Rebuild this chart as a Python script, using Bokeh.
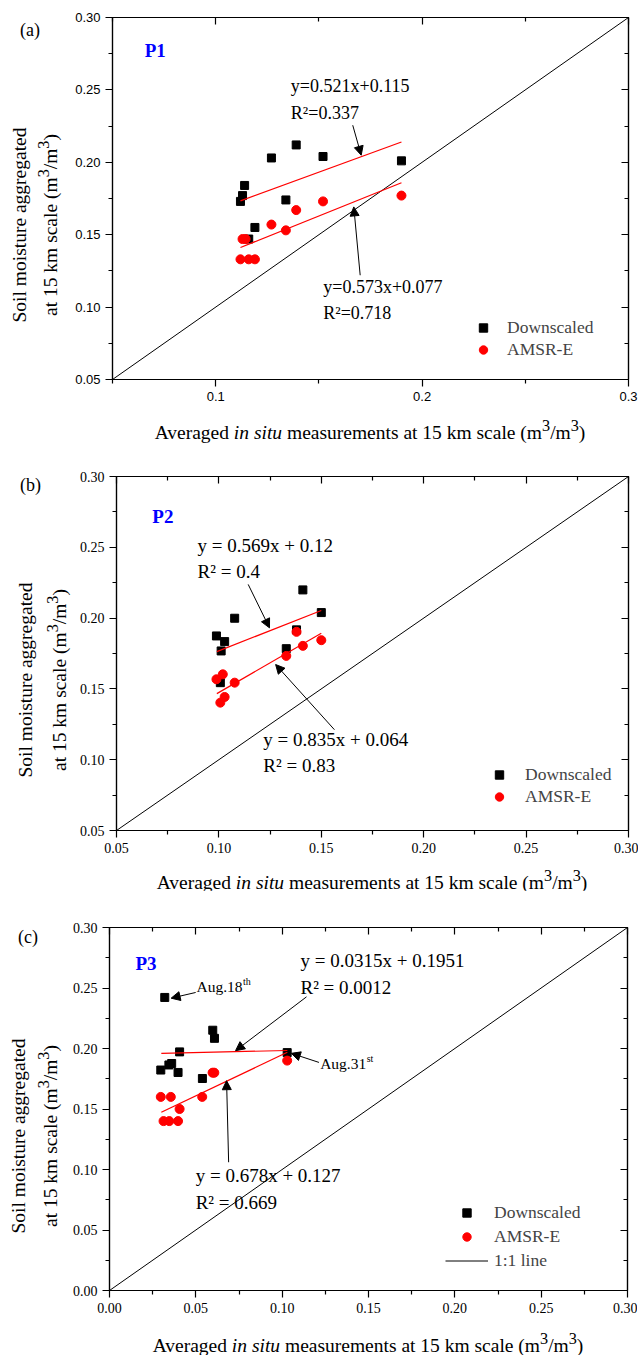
from bokeh.plotting import figure
from bokeh.models import (Label, Arrow, NormalHead, FixedTicker, LinearAxis,
                          NumeralTickFormatter, Legend, LegendItem, Range1d, Div)
from bokeh.layouts import column, row
from bokeh.embed import file_html
from bokeh.resources import INLINE

SERIF = "Liberation Serif"
SANS = "Liberation Sans"

# ---------------- data ----------------
# Panel (a) P1
a_down_x = [0.112, 0.113, 0.114, 0.127, 0.139, 0.152, 0.190, 0.134, 0.119, 0.116]
a_down_y = [0.173, 0.177, 0.184, 0.203, 0.212, 0.204, 0.201, 0.174, 0.155, 0.147]
a_amsr_x = [0.113, 0.1145, 0.112, 0.116, 0.119, 0.127, 0.134, 0.139, 0.152, 0.190]
a_amsr_y = [0.147, 0.147, 0.133, 0.133, 0.133, 0.157, 0.153, 0.167, 0.173, 0.177]
a_fit_slope = [0.521, 0.573]
a_fit_icpt = [0.115, 0.077]
a_fit_x = [0.112, 0.190]

# Panel (b) P2
b_down_x = [0.0988, 0.1028, 0.1011, 0.1077, 0.141, 0.150, 0.1379, 0.1329, 0.1007]
b_down_y = [0.1874, 0.1834, 0.1768, 0.1999, 0.2199, 0.2039, 0.1917, 0.1784, 0.1544]
b_amsr_x = [0.1379, 0.141, 0.150, 0.1329, 0.1019, 0.0988, 0.1077, 0.1028, 0.1007]
b_amsr_y = [0.1903, 0.1804, 0.1844, 0.1733, 0.1603, 0.1568, 0.1544, 0.1443, 0.1403]
b_fit_slope = [0.569, 0.835]
b_fit_icpt = [0.12, 0.064]
b_fit_x = [0.099, 0.150]

# Panel (c) P3
c_down_x = [0.032, 0.0598, 0.0608, 0.0406, 0.0297, 0.0344, 0.036, 0.0397, 0.0538, 0.1029]
c_down_y = [0.2422, 0.2151, 0.2084, 0.1972, 0.1822, 0.1864, 0.1876, 0.1802, 0.1752, 0.1966]
c_amsr_x = [0.0297, 0.0355, 0.0537, 0.0406, 0.0313, 0.0346, 0.0397, 0.0597, 0.0607, 0.1029]
c_amsr_y = [0.160, 0.160, 0.160, 0.150, 0.140, 0.140, 0.140, 0.180, 0.180, 0.190]
c_fit_slope = [0.0315, 0.678]
c_fit_icpt = [0.1951, 0.127]
c_fit_x = [0.030, 0.103]

series_labels = ["Downscaled", "AMSR-E", "1:1 line"]
x_title_html = "Averaged <i>in situ</i> measurements at 15 km scale (m<sup>3</sup>/m<sup>3</sup>)"
y_title_html = ["Soil moisture aggregated", "at 15 km scale (m<sup>3</sup>/m<sup>3</sup>)"]

a_ann_text = ["y=0.521x+0.115", "R²=0.337", "y=0.573x+0.077", "R²=0.718"]
b_ann_text = ["y = 0.569x + 0.12", "R² = 0.4", "y = 0.835x + 0.064", "R² = 0.83"]
c_ann_text = ["y = 0.0315x + 0.1951", "R² = 0.0012", "y = 0.678x + 0.127", "R² = 0.669"]
c_date_text = ["Aug.18", "Aug.31"]
c_date_sup = ["th", "st"]

REG = {' ': 250, 'A': 722, 'u': 500, 'g': 500, '.': 250, '1': 500, '8': 500, '3': 500}


def tw(s, size):
    return sum(REG.get(ch, 500) for ch in s) / 1000.0 * size


def styled_axis(ax, ticks, minor, fmt, font, fsize, outside=True):
    ax.ticker = FixedTicker(ticks=ticks, minor_ticks=minor)
    ax.formatter = NumeralTickFormatter(format=fmt)
    ax.axis_line_color = "black"
    ax.axis_line_width = 1.2
    ax.major_tick_line_width = 1.2
    ax.minor_tick_line_width = 1.2
    if outside:
        ax.major_tick_out, ax.major_tick_in = 7, 0
        ax.minor_tick_out, ax.minor_tick_in = 4, 0
        ax.major_label_text_font = font
        ax.major_label_text_font_size = fsize
        ax.major_label_text_color = "black"
        ax.major_label_standoff = 5
    else:
        ax.major_tick_out, ax.major_tick_in = 0, 7
        ax.minor_tick_out, ax.minor_tick_in = 0, 4
        ax.major_label_text_font_size = "1px"
        ax.major_label_text_color = None
        ax.major_label_standoff = 0


def make_panel(cfg):
    x0, x1 = cfg["xr"]
    y0, y1 = cfg["yr"]
    fw, fh = cfg["frame"]
    p = figure(frame_width=fw, frame_height=fh,
               x_range=Range1d(x0, x1), y_range=Range1d(y0, y1),
               output_backend="svg", toolbar_location=None,
               min_border_left=cfg["bl"], min_border_right=10,
               min_border_top=cfg["bt"], min_border_bottom=cfg["bb"],
               x_axis_location=None, y_axis_location=None, margin=0)
    p.grid.visible = False
    p.outline_line_color = "black"
    p.outline_line_width = 1.2

    xt, xm, xf = cfg["xticks"], cfg["xminor"], cfg["xfmt"]
    yt, ym = cfg["yticks"], cfg["yminor"]
    tf, tfs = cfg["tick_font"], cfg["tick_size"]

    bx = LinearAxis(); styled_axis(bx, xt, xm, xf, tf, tfs, True)
    ly = LinearAxis(); styled_axis(ly, yt, ym, "0.00", tf, tfs, True)
    tx = LinearAxis(); styled_axis(tx, xt, xm, xf, tf, tfs, False)
    ry = LinearAxis(); styled_axis(ry, yt, ym, "0.00", tf, tfs, False)
    p.add_layout(bx, "below")
    p.add_layout(ly, "left")
    p.add_layout(tx, "above")
    p.add_layout(ry, "right")

    r_one = p.line([x0, x1], [x0, x1], line_color="black", line_width=1)
    r_sq = p.scatter(cfg["dx"], cfg["dy"], marker="square", size=8,
                     fill_color="black", line_color="black")
    r_ci = p.scatter(cfg["ax"], cfg["ay"], marker="circle", size=9,
                     fill_color="#ff0000", line_color="#ff0000")
    fx = cfg["fit_x"]
    for s, b in zip(cfg["slope"], cfg["icpt"]):
        p.line(fx, [s * v + b for v in fx], line_color="#ff0000", line_width=1.2)

    afs = cfg["ann_size"]
    for t, x, y in zip(cfg["ann_text"], cfg["ann_x"], cfg["ann_y"]):
        p.add_layout(Label(x=x, y=y, text=t, text_font=SERIF,
                           text_font_size=afs, text_align="left",
                           text_baseline="middle", text_color="black"))
    for (xs, ys), (xe, ye) in zip(cfg["arr_s"], cfg["arr_e"]):
        p.add_layout(Arrow(end=NormalHead(size=9, fill_color="black",
                                          line_color="black", line_width=1),
                           x_start=xs, y_start=ys, x_end=xe, y_end=ye,
                           line_color="black", line_width=1))
    p.add_layout(Label(x=cfg["tag_xy"][0], y=cfg["tag_xy"][1], text=cfg["tag"],
                       text_font=SERIF, text_font_style="bold",
                       text_font_size="19px", text_color="#0000ff",
                       text_align="left", text_baseline="middle"))

    items = [LegendItem(label=series_labels[0], renderers=[r_sq]),
             LegendItem(label=series_labels[1], renderers=[r_ci])]
    if cfg.get("one_legend"):
        items.append(LegendItem(label=series_labels[2], renderers=[r_one]))
    lg = Legend(items=items, location=cfg["leg_loc"], glyph_width=cfg["gw"],
                glyph_height=21, label_height=21, label_standoff=cfg["ls"],
                spacing=cfg["lsp"], padding=0, margin=0,
                border_line_color=None, background_fill_alpha=0,
                label_text_font=SERIF, label_text_font_size="17.5px")
    p.add_layout(lg)
    return p


FONT = ("font-family:'Liberation Serif',serif;color:black;white-space:nowrap;"
        "line-height:1;position:absolute;")


def left_div(w, h, letter, lx, ly, lines_x, cy):
    html = f'<div style="position:relative;width:{w}px;height:{h}px;">'
    html += (f'<div style="{FONT}left:{lx}px;top:{ly}px;font-size:18px;'
             f'transform:translate(0,-50%);">{letter}</div>')
    for t, x in zip(y_title_html, lines_x):
        html += (f'<div style="{FONT}left:{x}px;top:{cy}px;font-size:19.5px;'
                 f'transform:translate(-50%,-50%) rotate(-90deg);">{t}</div>')
    html += '</div>'
    return Div(text=html, width=w, height=h, margin=0)


def bottom_div(w, h, cx, cy):
    html = (f'<div style="position:relative;width:{w}px;height:{h}px;">'
            f'<div style="{FONT}left:{cx}px;top:{cy}px;font-size:19.5px;'
            f'transform:translate(-50%,-50%);">{x_title_html}</div></div>')
    return Div(text=html, width=w, height=h, margin=0)


def frange(a, b, n):
    return [round(a + (b - a) * i / n, 4) for i in range(n + 1)]


pa = make_panel(dict(
    xr=(0.05, 0.30), yr=(0.05, 0.30), frame=(516, 362), bl=40, bt=17, bb=32,
    xticks=[0.1, 0.2, 0.3], xminor=[0.05, 0.15, 0.25], xfmt="0.0",
    yticks=frange(0.05, 0.30, 5), yminor=[0.075, 0.125, 0.175, 0.225, 0.275],
    tick_font=SANS, tick_size="13px",
    dx=a_down_x, dy=a_down_y, ax=a_amsr_x, ay=a_amsr_y,
    slope=a_fit_slope, icpt=a_fit_icpt, fit_x=a_fit_x,
    ann_text=a_ann_text, ann_x=[0.1364, 0.1364, 0.1521, 0.1521],
    ann_y=[0.2526, 0.2342, 0.114, 0.0956], ann_size="18px",
    arr_s=[(0.1664, 0.2256), (0.170, 0.122)],
    arr_e=[(0.1705, 0.2049), (0.1669, 0.1692)],
    tag="P1", tag_xy=(0.0656, 0.2774),
    leg_loc=(351, 19), gw=40, ls=4, lsp=1))

pb = make_panel(dict(
    xr=(0.05, 0.30), yr=(0.05, 0.30), frame=(512, 354), bl=44, bt=27, bb=32,
    xticks=frange(0.05, 0.30, 5), xminor=[0.075, 0.125, 0.175, 0.225, 0.275],
    xfmt="0.00",
    yticks=frange(0.05, 0.30, 5), yminor=[0.075, 0.125, 0.175, 0.225, 0.275],
    tick_font=SERIF, tick_size="14px",
    dx=b_down_x, dy=b_down_y, ax=b_amsr_x, ay=b_amsr_y,
    slope=b_fit_slope, icpt=b_fit_icpt, fit_x=b_fit_x,
    ann_text=b_ann_text, ann_x=[0.0896, 0.0896, 0.1217, 0.1217],
    ann_y=[0.2514, 0.2328, 0.1142, 0.0958], ann_size="19px",
    arr_s=[(0.1143, 0.2238), (0.1564, 0.1212)],
    arr_e=[(0.1247, 0.1931), (0.1277, 0.1672)],
    tag="P2", tag_xy=(0.0675, 0.2715),
    leg_loc=(363, 23), gw=40, ls=6, lsp=1))

pc = make_panel(dict(
    xr=(0.0, 0.30), yr=(0.0, 0.30), frame=(518, 363), bl=41, bt=37, bb=32,
    xticks=frange(0.0, 0.30, 6), xminor=[0.025, 0.075, 0.125, 0.175, 0.225, 0.275],
    xfmt="0.00",
    yticks=frange(0.0, 0.30, 6), yminor=[0.025, 0.075, 0.125, 0.175, 0.225, 0.275],
    tick_font=SERIF, tick_size="14px",
    dx=c_down_x, dy=c_down_y, ax=c_amsr_x, ay=c_amsr_y,
    slope=c_fit_slope, icpt=c_fit_icpt, fit_x=c_fit_x,
    ann_text=c_ann_text, ann_x=[0.1106, 0.1106, 0.0499, 0.0499],
    ann_y=[0.2725, 0.2505, 0.0949, 0.0729], ann_size="19px",
    arr_s=[(0.0499, 0.2463), (0.1141, 0.2427), (0.1213, 0.1885), (0.069, 0.106)],
    arr_e=[(0.0357, 0.2416), (0.073, 0.1982), (0.1053, 0.196), (0.0678, 0.1734)],
    tag="P3", tag_xy=(0.015, 0.2703),
    leg_loc=(336, 19), gw=43, ls=6, lsp=3, one_legend=True))

for t, s, x, y in zip(c_date_text, c_date_sup, [0.0504, 0.122], [0.251, 0.188]):
    pc.add_layout(Label(x=x, y=y, text=t, text_font=SERIF, text_font_size="15.5px",
                        text_align="left", text_baseline="middle", text_color="black"))
    pc.add_layout(Label(x=x, y=y, x_offset=tw(t, 15.5) + 0.5, y_offset=5, text=s,
                        text_font=SERIF, text_font_size="10px", text_color="black",
                        text_align="left", text_baseline="middle"))

panel_a = column(row(left_div(72, 411, "(a)", 20, 30, [20, 48], 225), pa, spacing=0, margin=0),
                 bottom_div(630, 38, 370, 19), spacing=0, margin=0)
panel_b = column(row(left_div(72, 413, "(b)", 20, 36, [26, 57], 231), pb, spacing=0, margin=0),
                 bottom_div(630, 28, 372, 18), spacing=0, margin=0)
panel_c = column(row(left_div(68, 432, "(c)", 18, 47, [19, 48], 246), pc, spacing=0, margin=0),
                 bottom_div(630, 32, 368, 21), spacing=0, margin=0)

layout = column(panel_a, panel_b, panel_c, spacing=0, margin=0)
open("out.html", "w").write(file_html(layout, INLINE))
